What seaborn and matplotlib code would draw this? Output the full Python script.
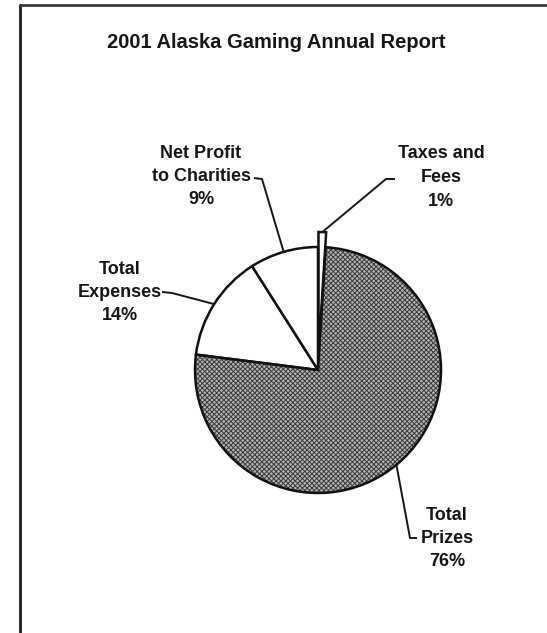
import numpy as np
import matplotlib
matplotlib.use("Agg")
import matplotlib.pyplot as plt
from matplotlib.patches import Wedge
import seaborn as sns

# ---- data -------------------------------------------------------------
title = "2001 Alaska Gaming Annual Report"
categories = ["Taxes and\nFees", "Total\nPrizes", "Total\nExpenses", "Net Profit\nto Charities"]
shares = [1, 76, 14, 9]

# ---- styling ----------------------------------------------------------
W, H = 547, 633
explode_px = [15, 0, 0, 0]
fills = ["white", "#b4b4b4", "white", "white"]
hatches = [None, "xxxxxxx", None, None]
hatch_ink = "#3a3a3a"

# label block centres (x, y of first line) and leader knee points, in pixels from top-left
label_pos = [(441, 154), (447, 515), (120, 269), (201, 153)]
leaders = [
    [(395, 179), (386, 179)],   # taxes: text -> knee -> wedge
    [(417, 538), (410, 538)],   # prizes
    [(162, 292), (172, 293)],   # expenses
    [(254, 178), (262, 179)],   # net profit
]
line_step = 23.5

sns.set_theme(style="white")
plt.rcParams["font.family"] = ["Liberation Sans", "DejaVu Sans"]
plt.rcParams["hatch.linewidth"] = 0.7

fig = plt.figure(figsize=(W / 100, H / 100), dpi=100)
fig.patch.set_facecolor("white")
ax = fig.add_axes([0, 0, 1, 1])

cx, cy, R = 318, H - 370, 123
wedges, _ = ax.pie(
    shares, explode=explode_px, center=(cx, cy), radius=R,
    startangle=90, counterclock=False, colors=fills,
    wedgeprops=dict(edgecolor="#111111", linewidth=1.8), frame=True,
)
# halftone-like texture laid over the shaded wedge, outline kept on top
for w, h in zip(wedges, hatches):
    if h:
        tex = Wedge(w.center, w.r, w.theta1, w.theta2, facecolor="none",
                    edgecolor=hatch_ink, linewidth=0, hatch=h, zorder=w.get_zorder())
        ax.add_patch(tex)
        w.set_zorder(w.get_zorder() + 0.1)
        w.set_facecolor("none")
        back = Wedge(w.center, w.r, w.theta1, w.theta2, facecolor=fills[wedges.index(w)],
                     linewidth=0, zorder=w.get_zorder() - 0.2)
        ax.add_patch(back)

ax.set_xlim(0, W)
ax.set_ylim(0, H)
ax.set_aspect("equal")
ax.set_axis_off()

def px(p):
    return p[0], H - p[1]

ink = "#161616"
fs = 13

for w, cat, v, (lx, ly), knees in zip(wedges, categories, shares, label_pos, leaders):
    lines = cat.split("\n") + [f"{v}%"]
    for i, t in enumerate(lines):
        ax.text(lx, H - (ly + i * line_step), t, ha="center", va="center",
                fontsize=fs, fontweight="bold", color=ink)
    mid = np.deg2rad((w.theta1 + w.theta2) / 2)
    ax0, ay0 = w.center
    anchor = (ax0 + R * np.cos(mid), ay0 + R * np.sin(mid))
    pts = [px(k) for k in knees] + [anchor]
    xs, ys = zip(*pts)
    ax.plot(xs, ys, color=ink, lw=1.4, solid_capstyle="butt")

ax.text(276, H - 43, title, ha="center", va="center", fontsize=14.5,
        fontweight="bold", color=ink)

# page frame (left and top edges)
ax.plot([19.5, 19.5], [0, H - 4.5], color="#1e1e1e", lw=2)
ax.plot([19.5, W], [H - 4.5, H - 4.5], color="#3a3a3a", lw=2)

fig.savefig("out.png", dpi=100, facecolor="white")
